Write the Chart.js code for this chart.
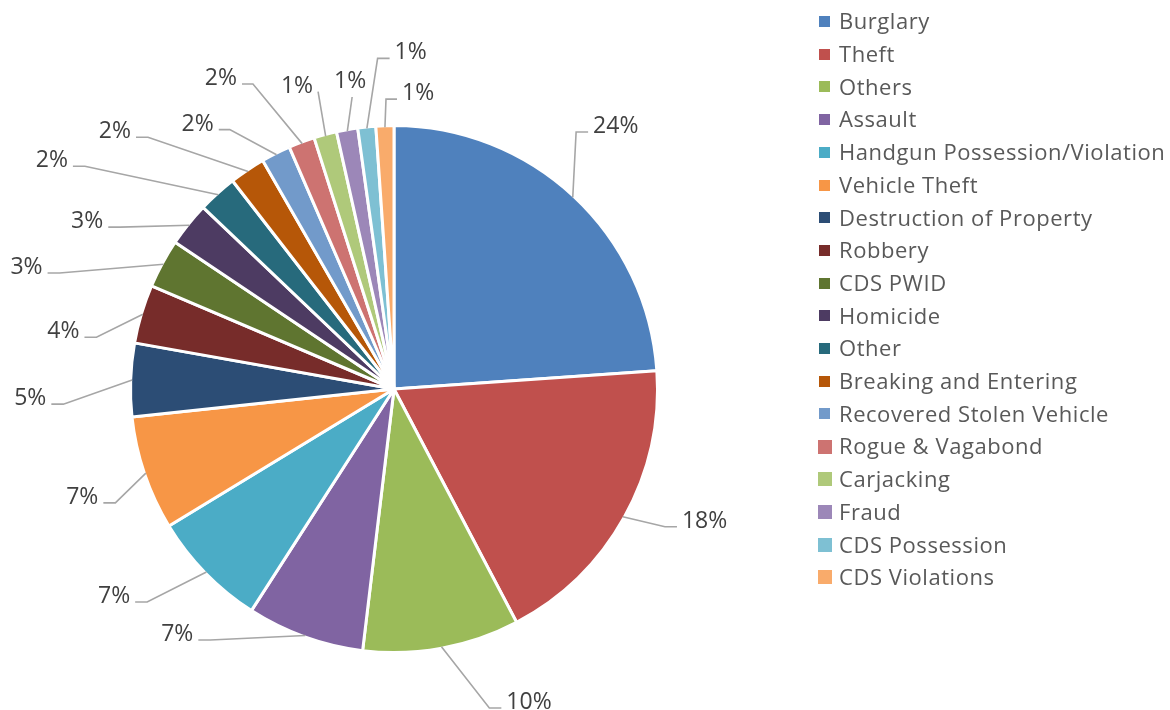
<!DOCTYPE html>
<html>
<head>
<meta charset="utf-8">
<script src="https://cdn.jsdelivr.net/npm/chart.js@4"></script>
<style>
    html, body { margin: 0; padding: 0; background: #ffffff; }
    #wrap { position: relative; width: 1170px; height: 710px; }
    #legend { position: absolute; left: 0; top: 0; font-family: "Open Sans", sans-serif; font-size: 22px; letter-spacing: 0.55px; color: #595959; }
    .item { position: absolute; left: 839px; white-space: nowrap; line-height: 30px; height: 30px; }
    .box { position: absolute; }
</style>
</head>
<body>
<div id="wrap">
    <canvas id="crimeChart" width="1170" height="710"></canvas>
    <div id="legend"></div>
</div>
<script>
// Incidents by offence type
const categories = [
    'Burglary', 'Theft', 'Others', 'Assault', 'Handgun Possession/Violation',
    'Vehicle Theft', 'Destruction of Property', 'Robbery', 'CDS PWID', 'Homicide',
    'Other', 'Breaking and Entering', 'Recovered Stolen Vehicle', 'Rogue & Vagabond',
    'Carjacking', 'Fraud', 'CDS Possession', 'CDS Violations'
];
const values = [239, 184, 96, 72, 72, 70, 45, 36, 30, 27, 24, 22, 18, 16, 14, 13, 11, 11];

const colors = [
    '#4F81BD', '#C0504D', '#9BBB59', '#8064A2', '#4BACC6', '#F79646',
    '#2C4D75', '#772C2A', '#5F7530', '#4D3B62', '#276A7C', '#B65708',
    '#729ACA', '#CD7371', '#AFC97A', '#9C87B8', '#7EC0D3', '#F9AB6B'
];

// label placement: where the leader line bends (degrees off the slice middle, px past the edge)
const labelShift = [-7.7, -2.2, -6.2, 16.4, 3.5, -3.5, -4.6, -6.7, -9.3, -8.1, -12.1, -10.5, -5.7, -4.3, 0.8, 2.1, 3.1, 0.4];
const labelGap = [53, 42, 71, 49, 64, 39, 69, 40, 92, 56, 119, 90, 45, 74, 45, 33, 69, 28];
const labelSide = ['r', 'r', 'r', 'l', 'l', 'l', 'l', 'l', 'l', 'l', 'l', 'l', 'l', 'l', 'l', 't', 'r', 'r'];
const labelStub = [12, 12, 12, 12, 12, 12, 12, 12, 12, 12, 12, 12, 11, 11, 0, 0, 12, 11];

const total = values.reduce((a, b) => a + b, 0);

const percentLabels = {
    id: 'percentLabels',
    afterDatasetsDraw(chart) {
        const ctx = chart.ctx;
        const arcs = chart.getDatasetMeta(0).data;
        ctx.save();
        ctx.font = '23px "Open Sans"';
        ctx.fillStyle = '#404040';
        ctx.strokeStyle = '#A6A6A6';
        ctx.lineWidth = 1.6;
        ctx.textBaseline = 'alphabetic';

        arcs.forEach((arc, i) => {
            const p = arc.getProps(['x', 'y', 'startAngle', 'endAngle', 'outerRadius'], true);
            const r = p.outerRadius - 1.5;
            const mid = (p.startAngle + p.endAngle) / 2;
            const bend = mid + labelShift[i] * Math.PI / 180;
            const sx = p.x + Math.cos(mid) * r;
            const sy = p.y + Math.sin(mid) * r;
            const ex = p.x + Math.cos(bend) * (r + labelGap[i]);
            const ey = p.y + Math.sin(bend) * (r + labelGap[i]);
            const text = Math.round(values[i] * 100 / total) + '%';
            const w = ctx.measureText(text).width;

            let tx, ty, endX;
            if (labelSide[i] === 'r') {
                endX = ex + labelStub[i];
                tx = endX + 5;
                ty = ey + 1;
            } else if (labelSide[i] === 'l') {
                endX = ex - labelStub[i];
                tx = endX - 5 - w;
                ty = ey + 1;
            } else {
                endX = ex;
                tx = ex - 2 - w / 2;
                ty = ey - 9;
            }

            ctx.beginPath();
            ctx.moveTo(sx, sy);
            ctx.lineTo(ex, ey);
            ctx.lineTo(endX, ey);
            ctx.stroke();
            ctx.fillText(text, tx, ty);
        });
        ctx.restore();
    }
};

const ctx = document.getElementById('crimeChart').getContext('2d');
const crimeChart = new Chart(ctx, {
    type: 'pie',
    data: {
        labels: categories,
        datasets: [{
            data: values,
            backgroundColor: colors,
            borderColor: '#ffffff',
            borderWidth: 3
        }]
    },
    options: {
        responsive: false,
        animation: false,
        devicePixelRatio: 1,
        layout: {
            padding: { left: 129, top: 124, right: 511, bottom: 56 }
        },
        plugins: {
            legend: { display: false },
            tooltip: { enabled: false }
        }
    },
    plugins: [percentLabels]
});

// legend on the right, built from the same arrays
const legend = document.getElementById('legend');
categories.forEach((name, i) => {
    const cy = 21.5 + i * 32.7;
    const size = i >= 13 ? 14 : 11;
    const box = document.createElement('div');
    box.className = 'box';
    box.style.left = (i >= 13 ? 818 : 819) + 'px';
    box.style.top = (cy - size / 2) + 'px';
    box.style.width = size + 'px';
    box.style.height = size + 'px';
    box.style.background = colors[i];
    legend.appendChild(box);

    const item = document.createElement('div');
    item.className = 'item';
    item.style.top = (cy - 16.2) + 'px';
    item.textContent = name;
    legend.appendChild(item);
});
</script>
</body>
</html>
